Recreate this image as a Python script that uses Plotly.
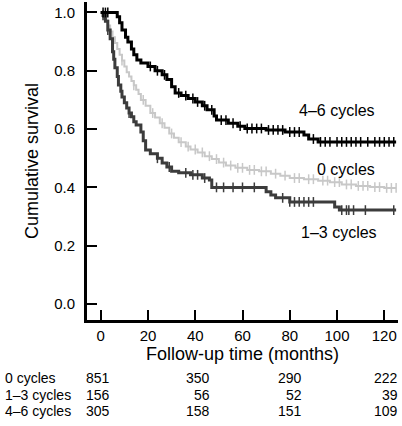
import numpy as np
import plotly.graph_objects as go

# ---- data ----
t_46 = [0, 7, 8, 9, 10.5, 11.5, 13, 14, 15.3, 17, 20, 23, 26, 28, 30, 31.5, 34, 37, 40, 43, 45, 48, 49, 54, 58, 61, 70, 78, 86, 88, 92, 125]
s_46 = [1.0, 0.985, 0.965, 0.94, 0.915, 0.899, 0.875, 0.855, 0.837, 0.827, 0.815, 0.80, 0.786, 0.77, 0.745, 0.724, 0.715, 0.705, 0.693, 0.68, 0.666, 0.645, 0.631, 0.62, 0.61, 0.602, 0.597, 0.59, 0.58, 0.566, 0.556, 0.556]
c_46 = [1, 2, 3, 21, 24, 27, 33, 36, 39, 41, 44, 47, 51, 53, 56, 59, 62, 64, 66, 68, 71, 73, 75, 77, 80, 82, 84, 90, 93, 95, 97, 100, 102, 104, 106, 108, 110, 113, 116, 118, 120, 122, 124]

t_0 = [0, 1, 2, 3, 4, 5, 6, 7, 8, 9, 10, 11, 12, 13, 14, 15, 16, 17, 19, 21, 23, 25, 27, 29, 31, 33, 36, 38, 41, 44, 47, 50, 53, 57, 62, 67, 72, 76, 80, 86, 92, 97, 102, 108, 114, 120, 125]
s_0 = [1.0, 0.99, 0.975, 0.955, 0.935, 0.915, 0.895, 0.875, 0.855, 0.835, 0.815, 0.795, 0.78, 0.765, 0.75, 0.735, 0.72, 0.70, 0.68, 0.655, 0.64, 0.62, 0.605, 0.585, 0.57, 0.555, 0.54, 0.53, 0.52, 0.507, 0.497, 0.485, 0.475, 0.467, 0.46, 0.455, 0.447, 0.44, 0.432, 0.428, 0.423, 0.418, 0.41, 0.405, 0.401, 0.398, 0.398]
c_0 = [1, 4, 9, 14, 18, 22, 26, 30, 34, 37, 40, 43, 46, 49, 52, 55, 58, 60, 63, 65, 68, 70, 74, 78, 82, 84, 88, 90, 94, 96, 99, 101, 104, 106, 109, 111, 113, 116, 118, 121, 123, 125]

t_13 = [0, 1, 2, 3, 4, 5, 5.5, 6, 7, 7.5, 8.5, 9, 10, 11, 12, 13, 14, 15, 17, 18, 19, 21, 24, 26, 28, 30, 33, 38, 43, 46, 47, 70, 72, 74, 80, 99, 101, 125]
s_13 = [1.0, 0.99, 0.97, 0.94, 0.91, 0.865, 0.84, 0.81, 0.78, 0.751, 0.73, 0.71, 0.69, 0.672, 0.655, 0.642, 0.625, 0.614, 0.59, 0.56, 0.528, 0.515, 0.50, 0.484, 0.47, 0.455, 0.45, 0.443, 0.432, 0.425, 0.40, 0.385, 0.374, 0.364, 0.35, 0.333, 0.322, 0.322]
c_13 = [1, 3, 12, 24, 29, 36, 39, 41, 44, 49, 52, 56, 60, 65, 77, 80, 82, 84, 86, 88, 90, 102, 104, 105, 107, 112, 124]

groups = ["0 cycles", "1–3 cycles", "4–6 cycles"]
risk_cols = [[851, 350, 290, 222], [156, 56, 52, 39], [305, 158, 151, 109]]
x_ticks = [0, 20, 40, 60, 80, 100, 120]
y_ticks = [0.0, 0.2, 0.4, 0.6, 0.8, 1.0]

FONT = "Liberation Sans, Arial, Helvetica, sans-serif"
W, H = 402, 426
L, R, T, B = 87, 4, 2, 106
PW, PH = W - L - R, H - T - B

def px(xp):
    return (xp - L) / PW

def py(yp):
    return (H - B - yp) / PH

def step_at(ts, ss, c):
    ts = np.asarray(ts); ss = np.asarray(ss)
    i = np.searchsorted(ts, c, side="right") - 1
    return ss[i]

fig = go.Figure()
series = [
    (t_0, s_0, c_0, "#c8c8c8", 2.0, "0 cycles"),
    (t_13, s_13, c_13, "#3c3c3c", 3.0, "1–3 cycles"),
    (t_46, s_46, c_46, "#000000", 3.0, "4–6 cycles"),
]
for ts, ss, cs, col, lw, name in series:
    fig.add_trace(go.Scatter(x=ts, y=ss, mode="lines", line=dict(color=col, width=lw, shape="hv"),
                             name=name, showlegend=False, hoverinfo="skip"))
    fig.add_trace(go.Scatter(x=cs, y=step_at(ts, ss, cs), mode="markers",
                             marker=dict(symbol="line-ns-open", size=7, color=col, line=dict(color=col, width=1.5)),
                             showlegend=False, hoverinfo="skip"))

ann = []
# curve labels
ann.append(dict(x=px(377), y=py(110), text="4–6 cycles", xanchor="right", yanchor="middle"))
ann.append(dict(x=px(377), y=py(169), text="0 cycles", xanchor="right", yanchor="middle"))
ann.append(dict(x=px(379), y=py(233), text="1–3 cycles", xanchor="right", yanchor="middle"))
# risk table
row_y = [378, 395, 411]
for g, vals, yy in zip(groups, risk_cols, row_y):
    ann.append(dict(x=px(3), y=py(yy), text=g, xanchor="left", yanchor="middle", font=dict(size=14)))
    ann.append(dict(x=px(84), y=py(yy), text=str(vals[0]), xanchor="left", yanchor="middle", font=dict(size=14)))
    for v, xr in zip(vals[1:], [212, 304, 400]):
        ann.append(dict(x=px(xr), y=py(yy), text=str(v), xanchor="right", yanchor="middle", font=dict(size=14)))
for a in ann:
    a.update(xref="paper", yref="paper", showarrow=False)
    a.setdefault("font", dict(size=16))
    a["font"] = dict(family=FONT, color="black", **a["font"])

fig.update_layout(
    width=W, height=H, margin=dict(l=L, r=R, t=T, b=B),
    paper_bgcolor="white", plot_bgcolor="white",
    font=dict(family=FONT, size=15, color="black"),
    annotations=ann,
    xaxis=dict(range=[-5.8, 125.8], tickvals=x_ticks, ticks="inside", ticklen=10, tickwidth=1.5,
               tickcolor="black", showline=True, linewidth=3, linecolor="black", showgrid=False,
               zeroline=False, title=dict(text="Follow-up time (months)", standoff=5),
               tickfont=dict(size=15)),
    yaxis=dict(range=[-0.055, 1.036], tickvals=y_ticks, tickformat=".1f", ticks="inside", ticklen=10,
               tickwidth=1.5, tickcolor="black", showline=True, linewidth=3, linecolor="black",
               showgrid=False, zeroline=False, title=dict(text="Cumulative survival", standoff=11),
               tickfont=dict(size=15), ticklabelstandoff=6),
)
fig.write_html("out.html", config={"displayModeBar": False},
               post_script="document.body.style.margin='0';document.body.style.overflow='hidden';")
